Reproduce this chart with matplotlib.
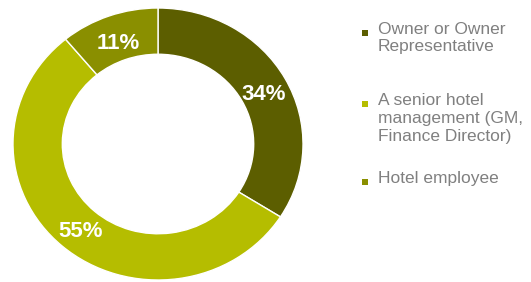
import matplotlib.pyplot as plt
from matplotlib.patches import Rectangle
from matplotlib.transforms import offset_copy

labels = ["Owner or Owner\nRepresentative",
          "A senior hotel\nmanagement (GM,\nFinance Director)",
          "Hotel employee"]
values = [34, 55, 11]
colors = ["#5C5E00", "#B5BD00", "#8A8F00"]

W, H = 531, 282
fig = plt.figure(figsize=(W / 100, H / 100), dpi=100)
fig.patch.set_facecolor("white")

ax = fig.add_axes([13 / W, 2 / H, 290 / W, 272 / H])
wedges, texts, autotexts = ax.pie(
    values, colors=colors, startangle=90, counterclock=False,
    radius=1.0, autopct=lambda p: f"{p:.0f}%", pctdistance=0.82,
    wedgeprops=dict(width=0.34, edgecolor="white", linewidth=1.0),
    textprops=dict(color="white", fontsize=16, fontweight="bold",
                   family=["Liberation Sans", "DejaVu Sans"]))
ax.set_xlim(-1, 1)
ax.set_ylim(-1, 1)
ax.set_aspect("auto")
ax.axis("off")
for t in autotexts:
    t.set_transform(offset_copy(ax.transData, fig=fig, x=1, y=-4, units="dots"))

# legend drawn manually
text_x = 378
entries_y = [29, 100, 178]  # first-line centre y (px from top)
line_h = 18
for lab, col, y in zip(labels, colors, entries_y):
    for i, line in enumerate(lab.split("\n")):
        fig.text(text_x / W, 1 - (y + i * line_h) / H, line, ha="left", va="center",
                 fontsize=12.5, color="#808080",
                 family=["Liberation Sans", "DejaVu Sans"])
    sq = 6
    fig.add_artist(Rectangle((362 / W, 1 - (y + 7) / H), sq / W, sq / H,
                             transform=fig.transFigure, facecolor=col,
                             edgecolor="none"))

fig.savefig("out.png", dpi=100, facecolor="white")
